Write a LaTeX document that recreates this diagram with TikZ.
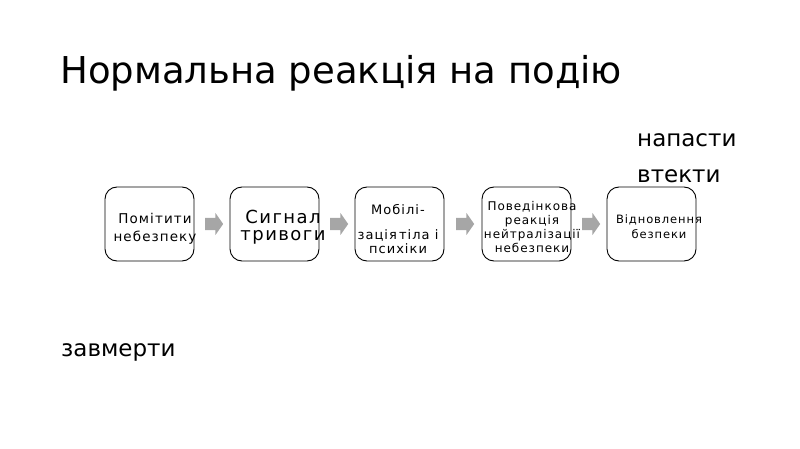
\documentclass[tikz,border=0pt]{standalone}
\usepackage{fontspec}
\setmainfont{DejaVu Sans}
\newfontfamily\spacedfont[LetterSpace=8]{DejaVu Sans}
\usetikzlibrary{shapes.arrows,calc}
\tikzset{
  stepbox/.style={draw, rounded corners=12pt, minimum width=89pt, minimum height=74pt, inner sep=0pt, line width=0.9pt},
  flowarrow/.style={single arrow, fill=gray!70, draw=none, minimum height=18pt, inner xsep=0pt, inner ysep=6pt, single arrow head extend=5pt, single arrow tip angle=110},
  steptext/.style={align=center, inner sep=0pt},
  reply/.style={anchor=base west, inner sep=0pt, font=\fontsize{23}{27}\selectfont},
}
\begin{document}
\begin{tikzpicture}[x=1pt, y=-1pt]
  \useasboundingbox (0,0) rectangle (800,449);
  \node[anchor=base west, inner sep=0pt, font=\fontsize{37}{44}\selectfont] (title) at (60,84) {Нормальна реакція на подію};
  % boxes of the chain
  \foreach \i/\x in {1/149.5, 2/274.5, 3/399.5, 4/526.5, 5/651.5}
    \node[stepbox] (b\i) at (\x,224) {};
  \foreach \i/\j in {1/2, 2/3, 3/4, 4/5}
    \node[flowarrow] (a\i) at ($(b\i.east)!0.5!(b\j.west)$) {};
  \node[steptext, font=\spacedfont\fontsize{13.5}{18}\selectfont] (t1) at (155,229) {Помітити\\небезпеку};
  \node[steptext, font=\spacedfont\fontsize{18}{17}\selectfont] (t2) at (283,227) {Сигнал\\тривоги};
  \node[steptext, font=\spacedfont\fontsize{13}{25}\selectfont] (t3) at (398,229) {Мобілі-\\зація\hspace{-3pt} тіла і\\[-11pt]психіки};
  \node[steptext, font=\spacedfont\fontsize{12}{14}\selectfont] (t4) at (532,227) {Поведінкова\\реакція\\нейтралізації\\небезпеки};
  \node[steptext, font=\spacedfont\fontsize{11.5}{15}\selectfont] (t5) at (659,227) {Відновлення\\безпеки};
  % possible replies
  \node[reply] (r1) at (637,147) {напасти};
  \node[reply] (r2) at (637,183) {втекти};
  \node[reply] (r3) at (61,356) {завмерти};
\end{tikzpicture}
\end{document}
